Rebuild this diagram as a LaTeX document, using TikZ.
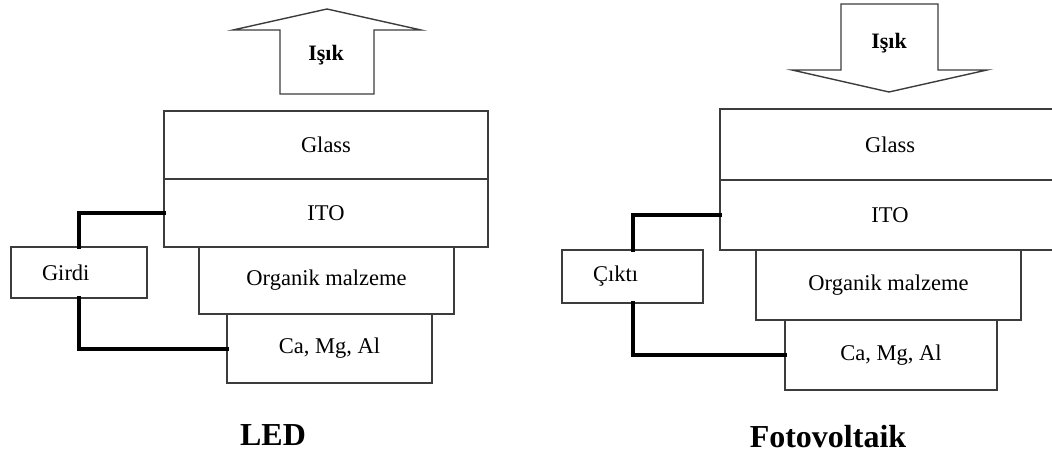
\documentclass[tikz,border=0pt]{standalone}
\usepackage{fontspec}
\setmainfont{Liberation Serif}
\usepackage{xcolor}
\definecolor{EdgeGray}{RGB}{60,60,60}
\usepackage{tikz}

\begin{document}
\begin{tikzpicture}[
    x=1pt, y=-1pt,
    layer/.style={
        draw=EdgeGray, line width=1.2pt,
        inner sep=0pt, outer sep=0pt,
        font=\fontsize{22.5}{26}\selectfont
    },
    portbox/.style={
        layer, inner xsep=31pt, align=left
    },
    wire/.style={
        line width=4pt, draw=black, line cap=rect
    },
    lightarrow/.style={
        draw=EdgeGray, line width=1.4pt, line join=miter
    },
    lightlabel/.style={
        font=\fontsize{22}{26}\selectfont\bfseries
    },
    caption/.style={
        font=\fontsize{32}{38}\selectfont\bfseries
    }
]
\useasboundingbox (0,0) rectangle (1052,454);

% ====== LED ======
\node[layer, minimum width=324, minimum height=68] (glassL) at (326,145)   {Glass};
\node[layer, minimum width=324, minimum height=68] (itoL)   at (326,213)   {ITO};
\node[layer, minimum width=255, minimum height=67] (orgL)   at (326.5,280.5) {Organik malzeme};
\node[layer, minimum width=205, minimum height=69] (caL)    at (329.5,348.5) {Ca, Mg, Al};
\node[portbox, text width=74pt, minimum height=51] (girdi)  at (79,272.5)  {Girdi};

% isik (yukari)
\draw[lightarrow] (280,94) -- (280,30) -- (233,30) -- (327,9) -- (421,30) -- (374,30) -- (374,94) -- cycle;
\node[lightlabel] (isikL) at (326,55) {Işık};

% baglantilar
\draw[wire] (girdi.north) |- (itoL.west);
\draw[wire] (girdi.south) |- (caL.west);

\node[caption] (led) at (273,435) {LED};

% ====== FOTOVOLTAIK ======
\node[layer, minimum width=340, minimum height=71] (glassF) at (890,144.5) {Glass};
\node[layer, minimum width=340, minimum height=70] (itoF)   at (890,215)   {ITO};
\node[layer, minimum width=265, minimum height=70] (orgF)   at (888.5,285) {Organik malzeme};
\node[layer, minimum width=212, minimum height=70] (caF)    at (891,355)   {Ca, Mg, Al};
\node[portbox, text width=79pt, minimum height=53] (cikti)  at (632.5,276.5) {Çıktı};

% isik (asagi)
\draw[lightarrow] (841,4) -- (938,4) -- (938,70) -- (987,70) -- (889,92) -- (792,70) -- (841,70) -- cycle;
\node[lightlabel] (isikF) at (889,43) {Işık};

% baglantilar
\draw[wire] (cikti.north) |- (itoF.west);
\draw[wire] (cikti.south) |- (caF.west);

\node[caption] (foto) at (828,437) {Fotovoltaik};

\end{tikzpicture}
\end{document}
